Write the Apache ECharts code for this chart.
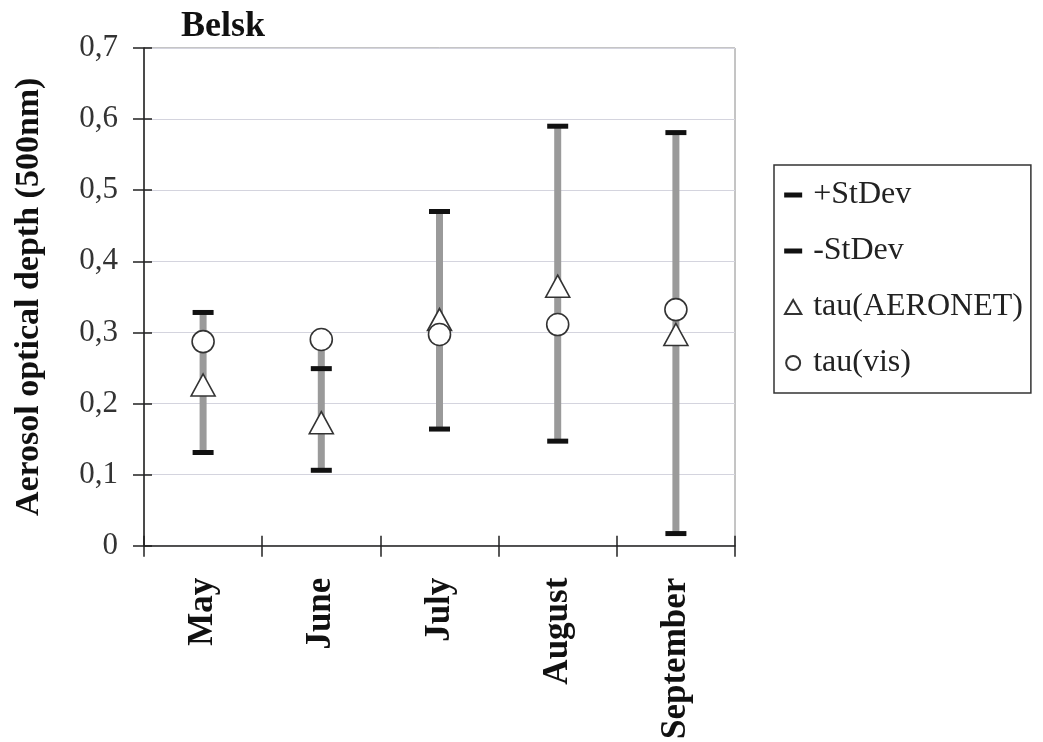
<!DOCTYPE html>
<html>
<head>
<meta charset="utf-8">
<script src="https://cdn.jsdelivr.net/npm/echarts@6/dist/echarts.min.js"></script>
<style>html,body{margin:0;padding:0;background:#fff}#c{width:1043px;height:742px}</style>
</head>
<body>
<div id="c"></div>
<script>
const months = ['May', 'June', 'July', 'August', 'September'];
const plusStDev = [0.328, 0.249, 0.470, 0.590, 0.581];
const minusStDev = [0.131, 0.106, 0.164, 0.147, 0.017];
const tauAeronet = [0.226, 0.173, 0.318, 0.365, 0.297];
const tauVis = [0.287, 0.290, 0.297, 0.311, 0.332];
const yTicks = [0, 0.1, 0.2, 0.3, 0.4, 0.5, 0.6, 0.7];

const FONT = "'Liberation Serif', 'Times New Roman', serif";
const highLow = months.map((m, i) => {
  const vals = [plusStDev[i], minusStDev[i], tauAeronet[i], tauVis[i]];
  return [i, Math.min(...vals), Math.max(...vals)];
});
const dashIcon = 'path://M0,0H18V5H0Z';
const triIcon = 'path://M7,0L14,12L0,12Z';

const chart = echarts.init(document.getElementById('c'), null, {renderer: 'canvas'});
chart.setOption({
  animation: false,
  backgroundColor: '#fff',
  title: {
    text: 'Belsk', left: 176, top: 4,
    textStyle: {fontFamily: FONT, fontWeight: 'bold', fontSize: 36, color: '#111'}
  },
  grid: {left: 144, right: 308, top: 48, bottom: 196, show: true, borderColor: '#8a8a8a', borderWidth: 1, backgroundColor: 'transparent'},
  legend: {
    orient: 'vertical', left: 774, top: 165,
    padding: [14, 8, 14, 10],
    itemGap: 24, itemWidth: 18, itemHeight: 14,
    borderColor: '#333', borderWidth: 1.5,
    textStyle: {fontFamily: FONT, fontSize: 32, color: '#222', padding: [0, 0, 0, 6]},
    data: [
      {name: '+StDev', icon: dashIcon},
      {name: '-StDev', icon: dashIcon},
      {name: 'tau(AERONET)', icon: triIcon},
      {name: 'tau(vis)', icon: 'circle'}
    ]
  },
  xAxis: [{
    type: 'category', data: months, boundaryGap: true,
    axisLine: {lineStyle: {color: '#222', width: 1.5}},
    axisTick: {show: true, length: 11, lineStyle: {color: '#222', width: 1.5}},
    axisLabel: {rotate: 90, margin: 32, fontFamily: FONT, fontWeight: 'bold', fontSize: 35, color: '#111'},
    splitLine: {show: false}
  }, {
    type: 'category', data: months, boundaryGap: true, position: 'bottom',
    axisLine: {show: false},
    axisTick: {show: true, inside: true, length: 10, lineStyle: {color: '#222', width: 1.5}},
    axisLabel: {show: false}, splitLine: {show: false}
  }],
  yAxis: [{
    type: 'value', min: yTicks[0], max: yTicks[yTicks.length - 1], interval: 0.1,
    name: 'Aerosol optical depth (500nm)', nameLocation: 'middle', nameGap: 98,
    nameTextStyle: {fontFamily: FONT, fontWeight: 'bold', fontSize: 34, color: '#111'},
    axisLine: {show: true, lineStyle: {color: '#222', width: 1.5}},
    axisTick: {show: true, length: 11, lineStyle: {color: '#222', width: 1.5}},
    axisLabel: {margin: 26, fontFamily: FONT, fontSize: 31, color: '#333',
      formatter: v => String(Math.round(v * 10) / 10).replace('.', ',')},
    splitLine: {show: true, lineStyle: {color: '#d4d4de', width: 1.2}}
  }, {
    type: 'value', min: yTicks[0], max: yTicks[yTicks.length - 1], interval: 0.1, position: 'left',
    axisLine: {show: false},
    axisTick: {show: true, inside: true, length: 8, lineStyle: {color: '#222', width: 1.5}},
    axisLabel: {show: false}, splitLine: {show: false}
  }],
  series: [
    {
      name: 'highlow', type: 'custom', z: 1,
      data: highLow, encode: {x: 0, y: [1, 2]},
      renderItem: function (params, api) {
        const top = api.coord([api.value(0), api.value(2)]);
        const bot = api.coord([api.value(0), api.value(1)]);
        return {type: 'rect', shape: {x: top[0] - 3.5, y: top[1], width: 7, height: bot[1] - top[1]},
          style: {fill: '#9a9a9a'}};
      }
    },
    {name: '+StDev', type: 'scatter', z: 3, data: plusStDev, symbol: 'rect', symbolSize: [21, 5],
      itemStyle: {color: '#111', opacity: 1}},
    {name: '-StDev', type: 'scatter', z: 3, data: minusStDev, symbol: 'rect', symbolSize: [21, 5],
      itemStyle: {color: '#111', opacity: 1}},
    {name: 'tau(AERONET)', type: 'scatter', z: 4, data: tauAeronet, symbol: 'triangle', symbolSize: [24, 22],
      itemStyle: {color: '#fff', borderColor: '#333', borderWidth: 1.6, opacity: 1}},
    {name: 'tau(vis)', type: 'scatter', z: 4, data: tauVis, symbol: 'circle', symbolSize: 22,
      itemStyle: {color: '#fff', borderColor: '#333', borderWidth: 1.6, opacity: 1}}
  ]
});
</script>
</body>
</html>
